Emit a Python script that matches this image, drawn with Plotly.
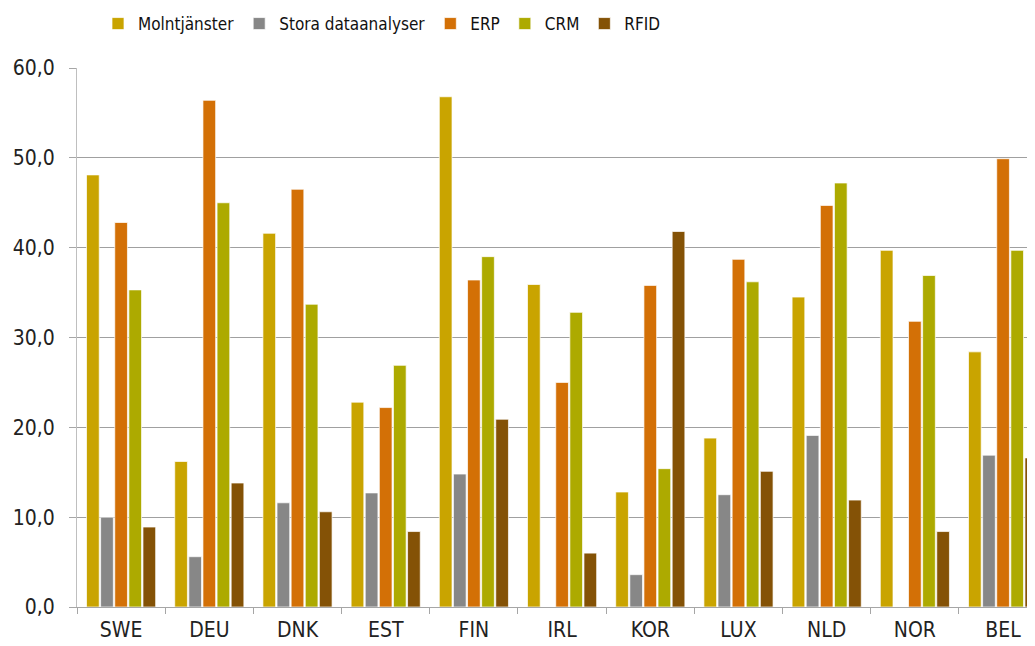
import plotly.graph_objects as go

# 국가 코드
countries = ["SWE", "DEU", "DNK", "EST", "FIN", "IRL", "KOR", "LUX", "NLD", "NOR", "BEL"]

# 시리즈별 값 (%)
molntjanster = [48.1, 16.2, 41.6, 22.8, 56.8, 35.9, 12.8, 18.8, 34.5, 39.7, 28.4]
stora_data = [10.0, 5.6, 11.6, 12.7, 14.8, 0, 3.6, 12.5, 19.1, 0, 16.9]
erp = [42.8, 56.4, 46.5, 22.2, 36.4, 25.0, 35.8, 38.7, 44.7, 31.8, 49.9]
crm = [35.3, 45.0, 33.7, 26.9, 39.0, 32.8, 15.4, 36.2, 47.2, 36.9, 39.7]
rfid = [8.9, 13.8, 10.6, 8.4, 20.9, 6.0, 41.8, 15.1, 11.9, 8.4, 16.6]

series_names = ["Molntjänster", "Stora dataanalyser", "ERP", "CRM", "RFID"]
y_ticks = [0, 10, 20, 30, 40, 50, 60]

fig = go.Figure()

series = [
    (series_names[0], molntjanster, "#C9A400"),
    (series_names[1], stora_data, "#878787"),
    (series_names[2], erp, "#D37006"),
    (series_names[3], crm, "#ADAA00"),
    (series_names[4], rfid, "#845206"),
]
for name, vals, color in series:
    fig.add_trace(go.Bar(
        x=countries, y=vals, name=name,
        marker=dict(color=color, line=dict(color="rgba(255,255,255,0.7)", width=1)),
    ))

tick_font = dict(family="DejaVu Sans Condensed, DejaVu Sans, sans-serif", size=21, color="#222222")

# 페이지 body 여백(8px) 감안한 크기
fig.update_layout(
    width=1027, height=638,
    margin=dict(l=69, r=0, t=60, b=39),
    paper_bgcolor="white", plot_bgcolor="white",
    barmode="group", bargap=0.2, bargroupgap=0.1,
    separators=", ",
    showlegend=True,
    legend=dict(
        orientation="h", xref="container", x=90 / 1027, xanchor="left",
        yref="container", y=1 - 16 / 638, yanchor="middle",
        font=dict(family="DejaVu Sans Condensed, sans-serif", size=17, color="#111111"),
        itemwidth=30, traceorder="normal",
    ),
    xaxis=dict(
        range=[-0.5, 10.362], tickson="boundaries", ticks="outside", ticklen=6,
        tickcolor="#A6A6A6", showline=True, linecolor="#A6A6A6", linewidth=1,
        showgrid=False, tickfont=tick_font, ticklabelstandoff=4, automargin=False,
    ),
    yaxis=dict(
        range=[0, 60], tickvals=y_ticks, tickformat=".1f",
        ticks="outside", ticklen=7, tickcolor="#A6A6A6",
        showline=True, linecolor="#BFBFBF", linewidth=1,
        showgrid=True, gridcolor="#A0A0A0", gridwidth=1,
        tickfont=tick_font, ticklabelstandoff=10, zeroline=False, automargin=False,
    ),
)

fig.write_html("out.html")
